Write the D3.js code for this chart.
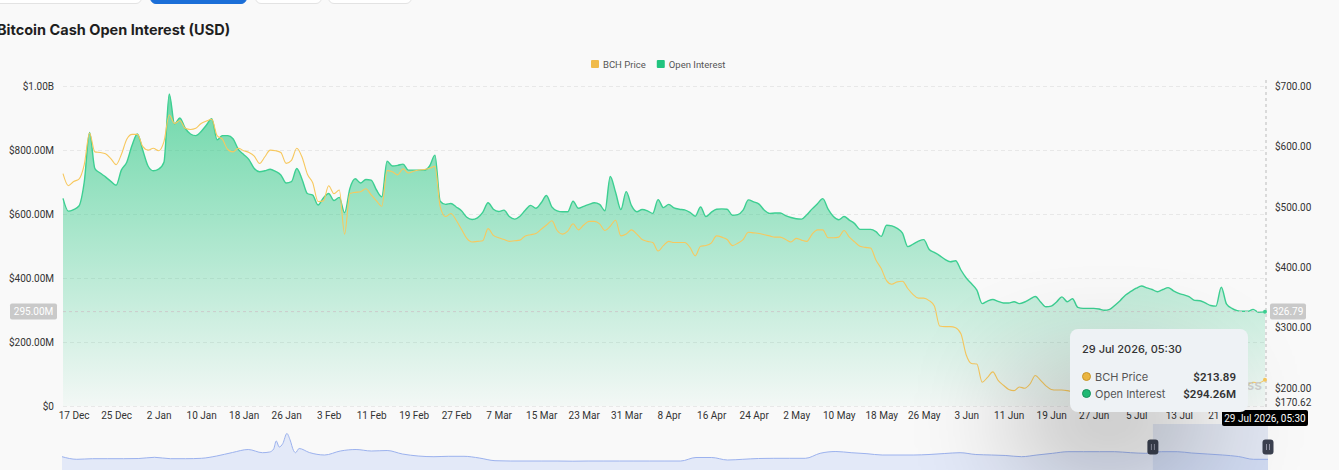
<!DOCTYPE html>
<html>
<head>
<meta charset="utf-8">
<script src="https://cdn.jsdelivr.net/npm/d3@7"></script>
<style>
  html, body { margin: 0; padding: 0; background: #f9f9f9; overflow: hidden; }
  body { width: 1339px; height: 470px; position: relative; font-family: Inter, "Noto Sans", sans-serif; }
  .btn { position: absolute; top: -30px; height: 32px; border: 1px solid #e3e3e3; border-radius: 6px; background: #fff; }
  .btn.on { background: #1b6fd8; border-color: #1b6fd8; }
  .title { position: absolute; left: -3px; top: 21px; font-size: 14.5px; font-weight: 700; color: #1f1f1f; }
  .tip { position: absolute; left: 1070px; top: 329px; width: 178px; height: 83px; box-sizing: border-box;
         background: #eef2f5; border-radius: 8px; padding: 13px 12px 0 12px; font-size: 11px; color: #333;
         box-shadow: -50px 50px 110px rgba(0,0,0,0.32); }
  .tip .hd { font-weight: 500; margin-bottom: 12px; }
  .tip .row { display: flex; align-items: center; height: 17px; }
  .tip .dot { width: 7px; height: 7px; border-radius: 50%; margin-right: 4px; }
  .tip .nm { color: #555; flex: 1; }
  .tip .val { font-weight: 600; color: #333; font-family: Roboto, sans-serif; font-size: 11.5px; }
</style>
</head>
<body>
<div class="btn" style="left:-10px;width:150px"></div>
<div class="btn on" style="left:150px;width:95px"></div>
<div class="btn" style="left:255px;width:65px"></div>
<div class="btn" style="left:328px;width:82px"></div>
<div class="title">Bitcoin Cash Open Interest (USD)</div>
<svg id="chart" width="1339" height="470" style="position:absolute;left:0;top:0"></svg>
<script>
// daily points from 15 Dec 2025, last one is 29 Jul 2026 05:30
const startDate = new Date(2025, 11, 15);
const endDate = new Date(2026, 6, 29, 5, 30);

// open interest, $M
const oiValues = [
  649, 609, 614, 625, 700, 855, 742, 728, 716, 702, 690, 738, 762, 815, 850, 800, 750, 735, 740, 762,
  975, 882, 900, 868, 850, 845, 858, 878, 898, 832, 845, 845, 835, 802, 786, 770, 742, 732, 735, 740,
  733, 722, 697, 701, 742, 708, 664, 659, 628, 650, 664, 642, 652, 604, 680, 710, 697, 708, 706, 675,
  654, 765, 750, 752, 756, 737, 737, 737, 737, 750, 784, 640, 630, 633, 622, 610, 590, 583, 588, 605,
  635, 615, 608, 612, 592, 584, 593, 612, 627, 618, 635, 658, 622, 610, 607, 607, 640, 618, 624, 630,
  635, 630, 610, 717, 668, 614, 670, 626, 607, 614, 610, 602, 645, 620, 630, 619, 615, 613, 605, 593,
  622, 592, 605, 615, 616, 615, 596, 598, 612, 644, 638, 631, 612, 602, 603, 603, 595, 589, 585, 584,
  598, 616, 632, 648, 615, 592, 582, 592, 581, 570, 552, 552, 552, 545, 530, 565, 563, 555, 540, 498,
  506, 515, 520, 490, 480, 470, 458, 451, 454, 425, 400, 382, 362, 320, 328, 333, 327, 322, 322, 326,
  320, 325, 334, 342, 325, 310, 312, 325, 341, 326, 335, 308, 305, 305, 305, 303, 299, 302, 315, 330,
  347, 358, 368, 375, 369, 364, 357, 364, 370, 360, 352, 347, 341, 330, 329, 322, 314, 312, 371, 318,
  305, 298, 296, 296, 302, 293, 294.26
];

// BCH price, $
const priceValues = [
  555, 535, 542, 546, 570, 622, 591, 590, 588, 580, 570, 587, 612, 620, 620, 600, 594, 597, 593, 608,
  652, 638, 643, 630, 628, 630, 638, 642, 645, 618, 612, 595, 591, 597, 593, 590, 584, 572, 583, 594,
  593, 590, 572, 577, 597, 582, 554, 540, 509, 510, 535, 522, 528, 455, 522, 524, 525, 530, 520, 510,
  501, 560, 558, 553, 563, 556, 559, 561, 562, 564, 567, 500, 484, 489, 478, 463, 448, 442, 443, 444,
  464, 453, 449, 446, 443, 444, 445, 452, 454, 456, 463, 470, 477, 461, 455, 460, 472, 462, 470, 476,
  476, 472, 461, 468, 478, 452, 455, 462, 455, 446, 443, 441, 427, 436, 443, 441, 441, 441, 433, 419,
  435, 436, 440, 452, 450, 446, 436, 440, 446, 458, 457, 456, 454, 452, 450, 450, 446, 442, 448, 445,
  443, 455, 462, 462, 449, 449, 450, 461, 450, 442, 435, 433, 432, 412, 398, 378, 372, 376, 377, 365,
  355, 349, 349, 345, 336, 303, 302, 302, 300, 290, 255, 241, 240, 210, 218, 227, 213, 205, 198, 196,
  202, 200, 207, 221, 213, 204, 198, 197, 197, 196, 194, 192, 195, 198, 196, 193, 191, 194, 199, 203,
  206, 204, 209, 212, 208, 205, 203, 206, 209, 206, 202, 200, 198, 201, 199, 196, 195, 197, 204, 200,
  198, 200, 203, 206, 210, 209, 213.89
];

const xTickLabels = [
  "2025-12-17", "2025-12-25", "2026-01-02", "2026-01-10", "2026-01-18", "2026-01-26", "2026-02-03",
  "2026-02-11", "2026-02-19", "2026-02-27", "2026-03-07", "2026-03-15", "2026-03-23", "2026-03-31",
  "2026-04-08", "2026-04-16", "2026-04-24", "2026-05-02", "2026-05-10", "2026-05-18", "2026-05-26",
  "2026-06-03", "2026-06-11", "2026-06-19", "2026-06-27", "2026-07-05", "2026-07-13", "2026-07-21"
];
const leftTicks = [0, 200, 400, 600, 800, 1000];
const rightTicks = [170.62, 200, 300, 400, 500, 600, 700];

// navigator: long history of open interest (own scale)
const navDates = [
  "2020-02-01", "2020-03-01", "2020-04-01", "2020-05-01", "2020-06-01", "2020-07-01", "2020-08-01",
  "2020-09-01", "2020-10-01", "2020-11-01", "2020-12-01", "2021-01-01", "2021-02-01", "2021-03-01",
  "2021-03-15", "2021-03-23", "2021-03-28", "2021-04-03", "2021-04-10", "2021-04-18", "2021-04-24",
  "2021-05-01", "2021-05-05", "2021-05-12", "2021-06-01", "2021-07-01", "2021-08-01", "2021-09-01",
  "2021-10-01", "2021-11-01", "2021-12-01", "2022-01-01", "2022-02-01", "2022-03-01", "2022-04-01",
  "2022-05-01", "2022-06-01", "2022-07-01", "2022-08-01", "2022-09-01", "2022-10-01", "2022-11-01",
  "2022-12-01", "2023-01-01", "2023-02-01", "2023-03-01", "2023-04-01", "2023-05-01", "2023-06-01",
  "2023-07-01", "2023-08-01", "2023-09-01", "2023-10-01", "2023-11-01", "2023-12-01", "2024-01-01",
  "2024-02-01", "2024-03-01", "2024-04-01", "2024-05-01", "2024-06-01", "2024-07-01", "2024-08-01",
  "2024-09-01", "2024-10-01", "2024-11-01", "2024-12-01", "2025-01-01", "2025-02-01", "2025-03-01",
  "2025-04-01", "2025-05-01", "2025-06-01", "2025-07-01", "2025-08-01", "2025-09-01", "2025-10-01",
  "2025-11-01", "2025-12-01", "2026-01-01", "2026-02-01", "2026-03-01", "2026-04-01", "2026-05-01",
  "2026-06-01", "2026-07-01", "2026-07-29"
];
const navValues = [
  852, 748, 772, 772, 772, 780, 828, 772, 772, 788, 880, 1020, 1140, 1012,
  1040, 1160, 1480, 1240, 1380, 1780, 1540, 1100, 1012, 1180, 1020, 920, 1080, 1140,
  1080, 1100, 960, 880, 852, 868, 868, 800, 692, 680, 680, 680, 680, 672,
  680, 680, 680, 680, 680, 680, 680, 820, 820, 720, 748, 780, 788, 788,
  788, 988, 1060, 1012, 972, 920, 920, 920, 940, 980, 1012, 940, 920, 900,
  852, 920, 988, 1052, 1052, 1052, 1052, 1012, 988, 1052, 1052, 1000, 960, 920,
  860, 748, 748
];

// cursor position (hover)
const cursorOI = 295;

const oiColor = "#3dcf92";
const priceColor = "#f7c85e";

const dates = oiValues.map((_, i) => i === oiValues.length - 1 ? endDate : d3.timeDay.offset(startDate, i));
const data = dates.map((d, i) => ({ date: d, oi: oiValues[i], price: priceValues[i] }));

const svg = d3.select("#chart");

const x = d3.scaleTime().domain([startDate, endDate]).range([63, 1265]);
const yL = d3.scaleLinear().domain([0, 1000]).range([406, 86]);
const yR = d3.scaleLinear().domain([170.62, 700]).range([406, 86]);

// gradient for the OI area
const defs = svg.append("defs");
const grad = defs.append("linearGradient").attr("id", "oiGrad")
  .attr("gradientUnits", "userSpaceOnUse").attr("x1", 0).attr("x2", 0).attr("y1", 93).attr("y2", 406);
grad.append("stop").attr("offset", 0).attr("stop-color", "#26c781").attr("stop-opacity", 0.66);
grad.append("stop").attr("offset", 1).attr("stop-color", "#26c781").attr("stop-opacity", 0.03);

// grid
svg.append("g").selectAll("line").data(leftTicks).join("line")
  .attr("x1", 63).attr("x2", 1265)
  .attr("y1", d => yL(d) + 0.5).attr("y2", d => yL(d) + 0.5)
  .attr("stroke", "#e8e8e8").attr("stroke-dasharray", "4,3");

// left axis
const fmtL = d => d === 0 ? "$0" : d >= 1000 ? "$" + (d / 1000).toFixed(2) + "B" : "$" + d.toFixed(2) + "M";
svg.append("g").attr("transform", "translate(62,0)")
  .call(d3.axisLeft(yL).tickValues(leftTicks).tickFormat(fmtL).tickSize(0).tickPadding(8))
  .call(g => g.select(".domain").remove())
  .selectAll("text").attr("font-size", 10).attr("fill", "#333").attr("font-family", "Roboto, sans-serif");

// right axis
svg.append("g").attr("transform", "translate(1267,0)")
  .call(d3.axisRight(yR).tickValues(rightTicks).tickFormat(d => "$" + d.toFixed(2)).tickSize(0).tickPadding(8))
  .call(g => g.select(".domain").remove())
  .selectAll("text").attr("font-size", 10).attr("fill", "#333").attr("font-family", "Roboto, sans-serif")
  .attr("dy", d => d === 170.62 ? "-0.05em" : "0.32em");

// x axis
svg.append("g").attr("transform", "translate(0,406)")
  .call(d3.axisBottom(x).tickValues(xTickLabels.map(s => d3.timeParse("%Y-%m-%d")(s)))
    .tickFormat(d3.timeFormat("%-d %b")).tickSize(0).tickPadding(6))
  .call(g => g.select(".domain").remove())
  .selectAll("text").attr("font-size", 10).attr("fill", "#333").attr("font-family", "Roboto, sans-serif");

// OI area + line
const area = d3.area().x(d => x(d.date)).y0(yL(0)).y1(d => yL(d.oi)).curve(d3.curveMonotoneX);
const oiLine = d3.line().x(d => x(d.date)).y(d => yL(d.oi)).curve(d3.curveMonotoneX);
const priceLine = d3.line().x(d => x(d.date)).y(d => yR(d.price)).curve(d3.curveMonotoneX);

svg.append("path").datum(data).attr("d", area).attr("fill", "url(#oiGrad)");
svg.append("path").datum(data).attr("d", oiLine).attr("fill", "none").attr("stroke", oiColor).attr("stroke-width", 1.4);
svg.append("path").datum(data).attr("d", priceLine).attr("fill", "none").attr("stroke", priceColor).attr("stroke-width", 1.1);

// watermark (mostly under the tooltip)
svg.append("text").attr("x", 1262).attr("y", 390).attr("text-anchor", "end")
  .attr("font-size", 14).attr("font-weight", 600).attr("fill", "#cfcfcf").text("coinglass");

// legend
const legend = [{ name: "BCH Price", color: "#f0bb4a" }, { name: "Open Interest", color: "#21c47f" }];
const lg = svg.append("g").attr("font-size", 9.5).attr("font-family", "Roboto, sans-serif");
let lx = 591;
legend.forEach(l => {
  lg.append("rect").attr("x", lx).attr("y", 60).attr("width", 8).attr("height", 8).attr("rx", 1).attr("fill", l.color);
  const t = lg.append("text").attr("x", lx + 12).attr("y", 67.5).attr("fill", "#555").text(l.name);
  lx += 12 + t.node().getComputedTextLength() + 11;
});

// crosshair
const last = data[data.length - 1];
const cx = x(last.date);
const cy = yL(cursorOI);
svg.append("line").attr("x1", cx + 1).attr("x2", cx + 1).attr("y1", 80).attr("y2", 410)
  .attr("stroke", "#bbb").attr("stroke-dasharray", "3,3");
svg.append("line").attr("x1", 63).attr("x2", 1265).attr("y1", cy).attr("y2", cy)
  .attr("stroke", "#ccc").attr("stroke-dasharray", "3,3");
svg.append("circle").attr("cx", cx).attr("cy", yL(last.oi)).attr("r", 2).attr("fill", oiColor);
svg.append("circle").attr("cx", cx).attr("cy", yR(last.price)).attr("r", 2).attr("fill", priceColor);

function badge(xc, yc, txt, anchor, fill, w) {
  const g = svg.append("g");
  g.append("rect").attr("x", anchor === "end" ? xc - w : xc).attr("y", yc - 8).attr("width", w).attr("height", 16)
    .attr("rx", 2).attr("fill", fill);
  g.append("text").attr("x", anchor === "end" ? xc - w / 2 : xc + w / 2).attr("y", yc + 3.5).attr("text-anchor", "middle")
    .attr("font-size", 10).attr("font-family", "Roboto, sans-serif").attr("fill", "#fff").text(txt);
}
badge(57, cy, d3.format(".2f")(cursorOI) + "M", "end", "#c9c9c9", 47);
badge(1270, cy, d3.format(".2f")(yR.invert(cy)), "start", "#c9c9c9", 36);

// navigator
const navParse = d3.timeParse("%Y-%m-%d");
const nav = navDates.map((s, i) => ({ date: i === navDates.length - 1 ? endDate : navParse(s), v: navValues[i] }));
const nx = d3.scaleTime().domain([nav[0].date, endDate]).range([62, 1268]);
const ny = d3.scaleLinear().domain([0, 2000]).range([478, 428]);
svg.append("path").datum(nav)
  .attr("d", d3.area().x(d => nx(d.date)).y0(480).y1(d => ny(d.v)).curve(d3.curveMonotoneX))
  .attr("fill", "#e3e9f8");
svg.append("path").datum(nav)
  .attr("d", d3.line().x(d => nx(d.date)).y(d => ny(d.v)).curve(d3.curveMonotoneX))
  .attr("fill", "none").attr("stroke", "#9cb2ee").attr("stroke-width", 1);
const s0 = nx(startDate), s1 = nx(endDate);
svg.append("rect").attr("x", s0).attr("y", 424).attr("width", s1 - s0).attr("height", 50)
  .attr("fill", "#8ea4dc").attr("opacity", 0.22);
[s0, s1].forEach(hx => {
  const h = svg.append("g").attr("transform", `translate(${hx},447)`);
  h.append("rect").attr("x", -5.5).attr("y", -7.5).attr("width", 11).attr("height", 15).attr("rx", 3).attr("fill", "#3b4150");
  h.append("line").attr("x1", -1.5).attr("x2", -1.5).attr("y1", -3).attr("y2", 3).attr("stroke", "#aab").attr("stroke-width", 0.8);
  h.append("line").attr("x1", 1.5).attr("x2", 1.5).attr("y1", -3).attr("y2", 3).attr("stroke", "#aab").attr("stroke-width", 0.8);
});

// bottom cursor label
const fmtFull = d3.timeFormat("%-d %b %Y, %H:%M");
badge(1222, 418, fmtFull(last.date), "start", "#000", 86);
</script>
<div class="tip">
  <div class="hd" id="tipHd"></div>
  <div class="row"><span class="dot" style="background:#eab540;border:1px solid #c9962a"></span><span class="nm">BCH Price</span><span class="val" id="tipP"></span></div>
  <div class="row"><span class="dot" style="background:#1fb873;border:1px solid #16915a"></span><span class="nm">Open Interest</span><span class="val" id="tipO"></span></div>
</div>
<script>
document.getElementById("tipHd").textContent = fmtFull(last.date);
document.getElementById("tipP").textContent = "$" + last.price.toFixed(2);
document.getElementById("tipO").textContent = "$" + last.oi.toFixed(2) + "M";
</script>
</body>
</html>
